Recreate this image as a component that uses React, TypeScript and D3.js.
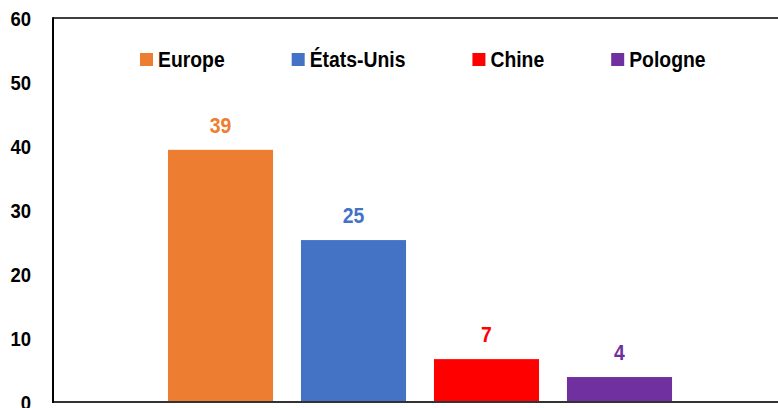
import React from 'react';
import { select, scaleBand, scaleLinear, format } from 'd3';

const categories = ['Europe', 'États-Unis', 'Chine', 'Pologne'];
const values = [39.4, 25.3, 6.7, 3.9];
const colors = ['#ED7D31', '#4472C4', '#FF0000', '#7030A0'];
const yTicks = [0, 10, 20, 30, 40, 50, 60];

const W = 778;
const H = 408;
const FONT = "'Liberation Sans', Arial, sans-serif";
const NARROW = 0.88; // squeeze Liberation Sans to look like Arial Narrow

export default function App() {
  const svgRef = React.useRef<SVGSVGElement>(null);

  React.useEffect(() => {
    document.body.style.margin = '0';
    const svg = select(svgRef.current);
    svg.selectAll('*').remove();

    const left = 53;
    const right = 787; // plot runs past the window edge
    const top = 18;
    const bottom = 402;

    const y = scaleLinear().domain([0, 60]).range([bottom, top]);
    const x = scaleBand<string>()
      .domain(categories)
      .range([154, 686])
      .paddingInner(0.21)
      .paddingOuter(0.105);

    const narrowText = (g: any, tx: number, ty: number, size: number, fill: string, anchor: string, s: string) =>
      g.append('text')
        .attr('transform', `translate(${tx},${ty}) scale(${NARROW},1)`)
        .attr('text-anchor', anchor)
        .attr('font-family', FONT)
        .attr('font-size', size)
        .attr('font-weight', 'bold')
        .attr('fill', fill)
        .text(s);

    // y tick labels
    const gy = svg.append('g');
    yTicks.forEach(t => {
      narrowText(gy, 31, y(t) + 7.5, 21, '#000', 'end', String(t));
    });

    // bars
    svg.append('g')
      .selectAll('rect')
      .data(values)
      .join('rect')
      .attr('x', (_, i) => x(categories[i]) as number)
      .attr('y', d => y(d))
      .attr('width', x.bandwidth())
      .attr('height', d => bottom - y(d))
      .attr('fill', (_, i) => colors[i]);

    // data labels
    const gl = svg.append('g');
    values.forEach((v, i) => {
      narrowText(gl, (x(categories[i]) as number) + x.bandwidth() / 2, y(v) - 17, 22, colors[i], 'middle', format('.0f')(v));
    });

    // frame: left, top, bottom lines
    svg.append('line')
      .attr('x1', left).attr('x2', right).attr('y1', top).attr('y2', top)
      .attr('stroke', '#000').attr('stroke-width', 1.5);
    svg.append('line')
      .attr('x1', left).attr('x2', right).attr('y1', bottom).attr('y2', bottom)
      .attr('stroke', '#333').attr('stroke-width', 2);
    svg.append('line')
      .attr('x1', left).attr('x2', left).attr('y1', top - 0.75).attr('y2', bottom + 1)
      .attr('stroke', '#000').attr('stroke-width', 2);

    // legend
    const legend = svg.append('g');
    let lx = 140;
    categories.forEach((c, i) => {
      legend.append('rect')
        .attr('x', lx).attr('y', 53).attr('width', 13).attr('height', 13)
        .attr('fill', colors[i]);
      const t = narrowText(legend, lx + 18, 67, 22, '#000', 'start', c);
      const len = (t.node() as SVGTextElement).getComputedTextLength() * NARROW;
      lx += 18 + len + 67;
    });
  }, []);

  return <svg ref={svgRef} width={W} height={H} style={{ display: 'block', background: '#fff' }} />;
}
